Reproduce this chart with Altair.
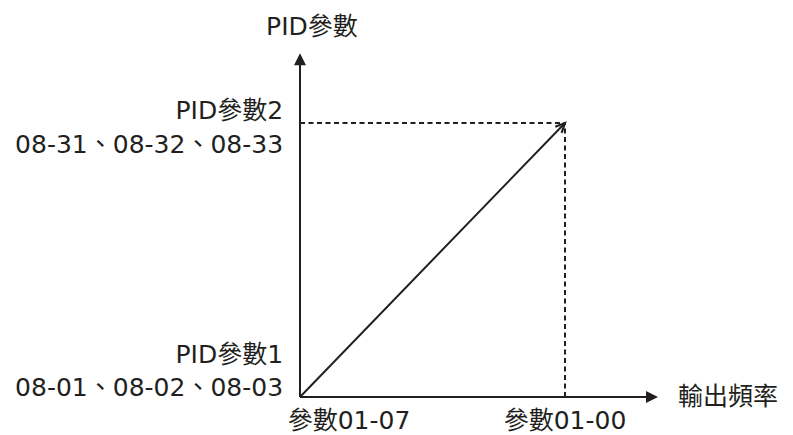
import altair as alt
import pandas as pd

INK = "#231f20"
FONT = "DejaVu Sans, Noto Sans CJK TC, sans-serif"

# schematic values (data units: output frequency on x, PID parameter on y)
line_x = [0.0, 1.0]
line_y = [0.0, 1.0]
y_axis_top = 1.255
x_axis_end = 1.351

label_text = ["PID參數", "PID參數2", "08-31、08-32、08-33", "PID參數1",
              "08-01、08-02、08-03", "參數01-07", "參數01-00", "輸出頻率"]
label_x = [0.045, -0.064, -0.064, -0.064, -0.064, 0.185, 1.0, 1.426]
label_y = [1.350, 1.044, 0.920, 0.153, 0.033, -0.088, -0.088, 0.0]
label_align = ["center", "right", "right", "right", "right", "center", "center", "left"]

W, H = 777, 427
xs = alt.Scale(domain=[-292 / 265, (W - 292) / 265], nice=False, zero=False)
ys = alt.Scale(domain=[-(H - 389) / 274, 389 / 274], nice=False, zero=False)

def X(f="x"):
    return alt.X(f + ":Q", scale=xs, axis=None)

def Y(f="y"):
    return alt.Y(f + ":Q", scale=ys, axis=None)

axes_df = pd.DataFrame({
    "x": [0.0, 0.0], "y": [0.0, 0.0],
    "x2": [0.0, x_axis_end - 0.03], "y2": [y_axis_top - 0.03, 0.0],
})
axes = alt.Chart(axes_df).mark_rule(color=INK, strokeWidth=2).encode(
    x=X(), y=Y(), x2="x2:Q", y2="y2:Q")

diag_df = pd.DataFrame({"x": [line_x[0]], "y": [line_y[0]],
                        "x2": [line_x[1]], "y2": [line_y[1]]})
diag = alt.Chart(diag_df).mark_rule(color=INK, strokeWidth=2).encode(
    x=X(), y=Y(), x2="x2:Q", y2="y2:Q")

dash_df = pd.DataFrame({
    "x": [0.0, line_x[1]], "y": [line_y[1], 0.0],
    "x2": [line_x[1], line_x[1]], "y2": [line_y[1], line_y[1]],
})
dashes = alt.Chart(dash_df).mark_rule(color=INK, strokeWidth=2,
                                      strokeDash=[5, 3.5]).encode(
    x=X(), y=Y(), x2="x2:Q", y2="y2:Q")

head_df = pd.DataFrame({"x": [0.0, x_axis_end], "y": [y_axis_top, 0.0],
                        "a": [0, 90]})
heads = alt.Chart(head_df).mark_point(
    shape="M0,0L0.5,1L-0.5,1Z", size=576, filled=True, color=INK, opacity=1,
    strokeWidth=0).encode(x=X(), y=Y(), angle=alt.Angle("a:Q", scale=None))

tip_df = pd.DataFrame({"x": [line_x[1]], "y": [line_y[1]], "a": [44]})
tip = alt.Chart(tip_df).mark_point(
    shape="M-0.42,0.9L0,0L0.42,0.9", size=441, filled=False, color=INK,
    opacity=1, strokeWidth=2.2).encode(x=X(), y=Y(),
                                       angle=alt.Angle("a:Q", scale=None))

lab_df = pd.DataFrame({"t": label_text, "x": label_x, "y": label_y,
                       "al": label_align})
texts = []
for al in ["left", "center", "right"]:
    sub = lab_df[lab_df["al"] == al]
    texts.append(alt.Chart(sub).mark_text(
        align=al, baseline="middle", font=FONT, fontSize=25, color=INK
    ).encode(x=X(), y=Y(), text="t:N"))

chart = alt.layer(axes, diag, dashes, heads, tip, *texts).properties(
    width=W, height=H, padding=0,
    autosize=alt.AutoSizeParams(type="none"),
).configure(background="white").configure_view(strokeWidth=0, stroke="transparent")

chart.save("out.html", embed_options={"renderer": "svg", "actions": False})
